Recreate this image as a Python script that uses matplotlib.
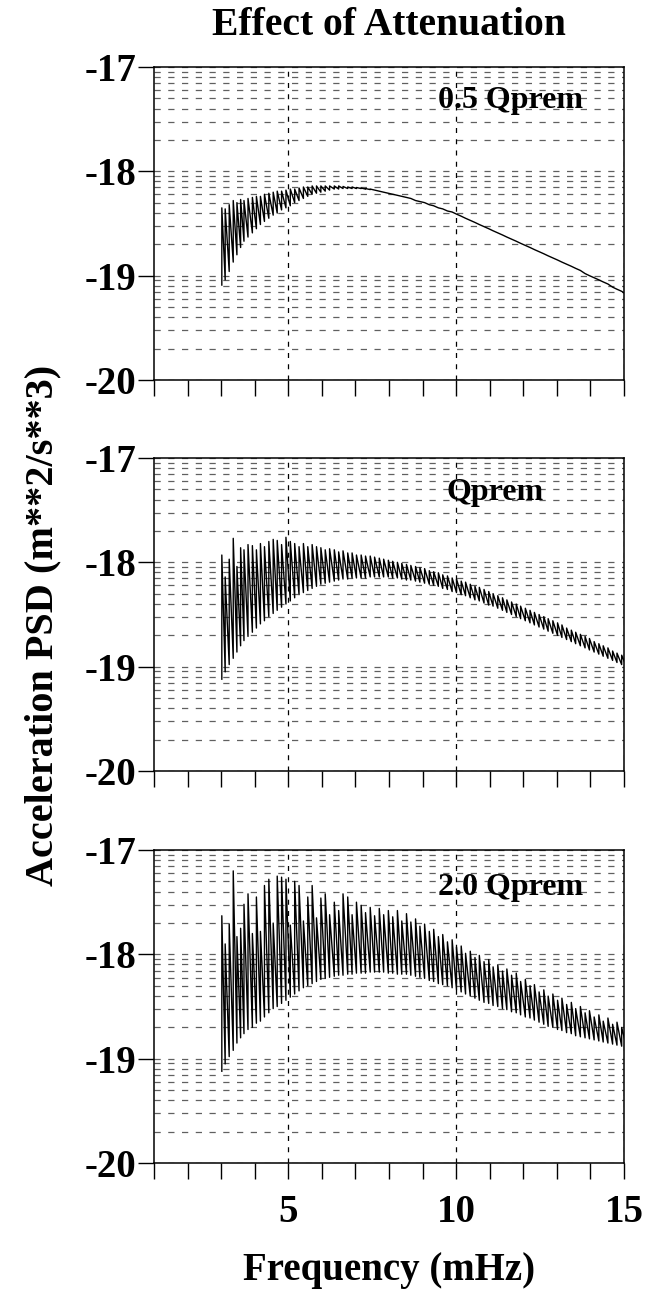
import matplotlib

matplotlib.use("Agg")
import matplotlib.pyplot as plt
import numpy as np
from matplotlib.ticker import FixedLocator, FuncFormatter, MultipleLocator, NullFormatter

plt.rcParams["font.family"] = ["Liberation Serif", "DejaVu Serif"]
plt.rcParams["font.weight"] = "bold"

# Frequencies (mHz) of the spectral peaks, shared by the three runs.
FREQ = [
    3.02, 3.12, 3.24, 3.36, 3.47, 3.58, 3.68, 3.80, 3.93, 4.05,
    4.17, 4.29, 4.42, 4.55, 4.67, 4.80, 4.93, 5.06, 5.19, 5.32,
    5.45, 5.58, 5.71, 5.84, 5.97, 6.10, 6.23, 6.37, 6.50, 6.63,
    6.77, 6.90, 7.03, 7.17, 7.30, 7.44, 7.57, 7.71, 7.84, 7.98,
    8.11, 8.25, 8.38, 8.52, 8.65, 8.79, 8.92, 9.06, 9.20, 9.33,
    9.47, 9.60, 9.74, 9.88, 10.01, 10.15, 10.28, 10.42, 10.56, 10.69,
    10.83, 10.97, 11.10, 11.24, 11.38, 11.51, 11.65, 11.79, 11.92, 12.06,
    12.20, 12.33, 12.47, 12.61, 12.74, 12.88, 13.02, 13.15, 13.29, 13.43,
    13.56, 13.70, 13.84, 13.97, 14.11, 14.25, 14.38, 14.52, 14.66, 14.79,
    14.93, 15.07,
]

# log10 acceleration PSD: trough before each peak, and the peak itself.
LOW_05 = [
    -19.09, -19.04, -18.96, -18.87, -18.80, -18.73, -18.67, -18.63, -18.59, -18.55,
    -18.51, -18.48, -18.45, -18.42, -18.40, -18.37, -18.35, -18.33, -18.30, -18.28,
    -18.26, -18.24, -18.22, -18.21, -18.20, -18.19, -18.18, -18.17, -18.17, -18.165,
    -18.165, -18.165, -18.165, -18.165, -18.17, -18.175, -18.18, -18.19, -18.20, -18.21,
    -18.22, -18.23, -18.24, -18.25, -18.26, -18.28, -18.29, -18.30, -18.32, -18.33,
    -18.35, -18.36, -18.38, -18.39, -18.41, -18.43, -18.45, -18.47, -18.49, -18.51,
    -18.53, -18.55, -18.57, -18.59, -18.61, -18.63, -18.65, -18.67, -18.69, -18.71,
    -18.73, -18.75, -18.77, -18.79, -18.81, -18.83, -18.85, -18.87, -18.89, -18.91,
    -18.93, -18.95, -18.98, -19.00, -19.02, -19.04, -19.06, -19.08, -19.11, -19.13,
    -19.15, -19.18,
]
HIGH_05 = [
    -18.35, -18.36, -18.32, -18.28, -18.30, -18.27, -18.28, -18.26, -18.25, -18.24,
    -18.24, -18.22, -18.21, -18.20, -18.19, -18.19, -18.18, -18.17, -18.17, -18.16,
    -18.15, -18.15, -18.14, -18.14, -18.14, -18.14, -18.14, -18.14, -18.14, -18.145,
    -18.15, -18.15, -18.155, -18.16, -18.165, -18.17, -18.18, -18.19, -18.20, -18.21,
    -18.22, -18.23, -18.24, -18.25, -18.26, -18.28, -18.29, -18.30, -18.32, -18.33,
    -18.35, -18.36, -18.38, -18.39, -18.41, -18.43, -18.45, -18.47, -18.49, -18.51,
    -18.53, -18.55, -18.57, -18.59, -18.61, -18.63, -18.65, -18.67, -18.69, -18.71,
    -18.73, -18.75, -18.77, -18.79, -18.81, -18.83, -18.85, -18.87, -18.89, -18.91,
    -18.93, -18.95, -18.98, -19.00, -19.02, -19.04, -19.06, -19.08, -19.11, -19.13,
    -19.15, -19.18,
]

LOW_10 = [
    -19.12, -19.05, -18.98, -18.92, -18.86, -18.80, -18.75, -18.71, -18.67, -18.63,
    -18.59, -18.56, -18.52, -18.49, -18.46, -18.43, -18.40, -18.37, -18.34, -18.31,
    -18.29, -18.27, -18.25, -18.23, -18.21, -18.20, -18.19, -18.18, -18.17, -18.16,
    -18.16, -18.15, -18.15, -18.15, -18.15, -18.14, -18.14, -18.14, -18.14, -18.14,
    -18.15, -18.15, -18.16, -18.17, -18.17, -18.18, -18.19, -18.20, -18.21, -18.22,
    -18.23, -18.25, -18.26, -18.28, -18.29, -18.31, -18.32, -18.34, -18.36, -18.37,
    -18.39, -18.41, -18.42, -18.44, -18.46, -18.48, -18.50, -18.52, -18.54, -18.56,
    -18.58, -18.60, -18.62, -18.64, -18.66, -18.68, -18.70, -18.72, -18.74, -18.76,
    -18.78, -18.80, -18.82, -18.84, -18.86, -18.88, -18.90, -18.92, -18.94, -18.96,
    -18.98, -19.00,
]
HIGH_10 = [
    -17.93, -18.14, -17.97, -17.77, -18.04, -17.86, -17.88, -17.83, -17.84, -17.88,
    -17.82, -17.85, -17.80, -17.78, -17.79, -17.83, -17.76, -17.80, -17.82, -17.85,
    -17.82, -17.85, -17.83, -17.85, -17.86, -17.88, -17.87, -17.88, -17.90, -17.89,
    -17.91, -17.91, -17.93, -17.93, -17.94, -17.94, -17.95, -17.96, -17.97, -17.98,
    -17.99, -18.00, -18.01, -18.02, -18.03, -18.04, -18.05, -18.06, -18.08, -18.09,
    -18.10, -18.12, -18.13, -18.15, -18.16, -18.18, -18.19, -18.21, -18.23, -18.24,
    -18.26, -18.28, -18.30, -18.32, -18.34, -18.36, -18.38, -18.40, -18.42, -18.44,
    -18.46, -18.48, -18.50, -18.52, -18.54, -18.56, -18.58, -18.60, -18.63, -18.65,
    -18.67, -18.69, -18.71, -18.73, -18.76, -18.78, -18.80, -18.82, -18.85, -18.87,
    -18.89, -18.92,
]

LOW_20 = [
    -19.12, -19.05, -18.98, -18.92, -18.85, -18.80, -18.76, -18.72, -18.70, -18.66,
    -18.64, -18.60, -18.56, -18.52, -18.50, -18.47, -18.44, -18.41, -18.38, -18.35,
    -18.32, -18.30, -18.28, -18.26, -18.24, -18.23, -18.22, -18.21, -18.20, -18.20,
    -18.19, -18.19, -18.18, -18.18, -18.18, -18.17, -18.17, -18.17, -18.17, -18.18,
    -18.18, -18.19, -18.19, -18.19, -18.20, -18.21, -18.22, -18.23, -18.25, -18.26,
    -18.28, -18.29, -18.30, -18.32, -18.34, -18.36, -18.38, -18.40, -18.42, -18.44,
    -18.46, -18.47, -18.49, -18.50, -18.52, -18.53, -18.55, -18.56, -18.58, -18.60,
    -18.61, -18.63, -18.65, -18.67, -18.69, -18.70, -18.72, -18.73, -18.75, -18.76,
    -18.78, -18.79, -18.80, -18.81, -18.82, -18.83, -18.84, -18.85, -18.86, -18.87,
    -18.88, -18.88,
]
HIGH_20 = [
    -17.63, -17.90, -17.71, -17.20, -17.83, -17.75, -17.52, -17.42, -17.80, -17.45,
    -17.78, -17.34, -17.28, -17.70, -17.25, -17.26, -17.28, -17.72, -17.30, -17.34,
    -17.68, -17.45, -17.34, -17.65, -17.46, -17.42, -17.62, -17.50, -17.58, -17.42,
    -17.45, -17.62, -17.50, -17.53, -17.60, -17.55, -17.63, -17.56, -17.62, -17.58,
    -17.64, -17.58, -17.68, -17.61, -17.69, -17.66, -17.73, -17.71, -17.78, -17.76,
    -17.83, -17.81, -17.88, -17.86, -17.93, -17.92, -17.99, -17.97, -18.03, -18.01,
    -18.07, -18.05, -18.12, -18.10, -18.16, -18.14, -18.20, -18.18, -18.26, -18.24,
    -18.30, -18.29, -18.36, -18.34, -18.40, -18.38, -18.44, -18.42, -18.48, -18.46,
    -18.52, -18.50, -18.56, -18.54, -18.60, -18.58, -18.64, -18.61, -18.67, -18.65,
    -18.70, -18.69,
]

RUNS = [
    ("0.5 Qprem", LOW_05, HIGH_05),
    ("Qprem", LOW_10, HIGH_10),
    ("2.0 Qprem", LOW_20, HIGH_20),
]
DECADES = [1e-20, 1e-19, 1e-18, 1e-17]
MINOR = [k * d for d in DECADES[:-1] for k in range(2, 10)]

# axes bottoms in figure fraction, top to bottom
BOTTOMS = [0.7061, 0.4037, 0.1005]
LABEL_POS = [(0.913, 0.869), (0.83, 0.866), (0.913, 0.856)]


def spikes(freq, low, high):
    # each peak drawn as a vertical rise from its trough, then down to the next one
    x = np.repeat(np.asarray(freq), 2)
    y = np.column_stack([low, high]).ravel()
    return x, 10.0 ** y


def plot():
    fig = plt.figure(figsize=(6.57, 12.93), dpi=100)
    axes = []
    for i, ((label, low, high), bottom) in enumerate(zip(RUNS, BOTTOMS)):
        ax = fig.add_axes([0.2344, bottom, 0.7154, 0.2421])
        x, y = spikes(FREQ, low, high)
        ax.plot(x, y, color="black", lw=1.0, zorder=3)

        ax.set_yscale("log")
        ax.set_ylim(1e-20, 1e-17)
        ax.set_xlim(1, 15)
        ax.yaxis.set_major_locator(FixedLocator(DECADES))
        ax.yaxis.set_minor_locator(FixedLocator(MINOR))
        ax.yaxis.set_major_formatter(FuncFormatter(lambda v, _: f"{np.log10(v):.0f}"))
        ax.yaxis.set_minor_formatter(NullFormatter())
        ax.xaxis.set_major_locator(FixedLocator([5, 10, 15]))
        ax.xaxis.set_minor_locator(MultipleLocator(1))

        ax.grid(axis="y", which="both", color="#606060", ls=(0, (5, 6)), lw=0.9)
        ax.grid(axis="x", which="major", color="black", ls=(0, (4, 5)), lw=0.9)
        ax.tick_params(axis="both", which="both", direction="out", length=11.5,
                       width=1.0, labelsize=28)
        ax.tick_params(axis="y", which="minor", length=0)
        ax.tick_params(axis="y", pad=1)
        ax.tick_params(axis="x", pad=11, labelbottom=(i == 2))
        for s in ax.spines.values():
            s.set_linewidth(1.1)

        lx, ly = LABEL_POS[i]
        ax.text(lx, ly, label, transform=ax.transAxes, ha="right", va="baseline",
                fontsize=23, fontweight="bold", zorder=4)
        axes.append(ax)

    fig.text(0.592, 0.973, "Effect of Attenuation", ha="center", va="baseline",
             fontsize=28.5, fontweight="bold")
    fig.text(0.592, 0.010, "Frequency (mHz)", ha="center", va="baseline",
             fontsize=28, fontweight="bold")
    fig.text(0.066, 0.516, "Acceleration PSD (m**2/s**3)", ha="center", va="center",
             rotation=90, fontsize=29, fontweight="bold")
    return fig, axes


def main():
    fig, _ = plot()
    fig.savefig("out.png", dpi=100)


if __name__ == "__main__":
    main()
